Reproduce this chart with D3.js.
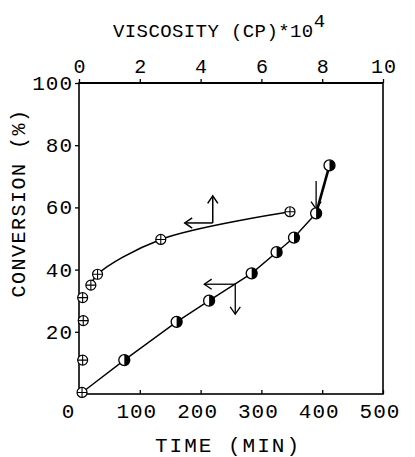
<!DOCTYPE html>
<html><head><meta charset="utf-8">
<script src="https://cdn.jsdelivr.net/npm/d3@7"></script>
<style>html,body{margin:0;padding:0;background:#fff;}svg{display:block;}</style>
</head><body>
<script>
// ---- data ----
const timeMin   = [5, 74.5, 160.6, 214, 284, 325, 353.6, 390, 412];
const timeConv  = [0.5, 10.9, 23.2, 30, 38.8, 45.6, 50.3, 58.1, 73.5];
const viscosity = [0.1, 0.12, 0.14, 0.12, 0.39, 0.61, 2.69, 6.94];
const viscConv  = [0.5, 10.9, 23.6, 31, 35, 38.5, 49.7, 58.6];
const timeTicks = [100, 200, 300, 400, 500];
const viscTicks = [0, 2, 4, 6, 8, 10];
const convTicks = [20, 40, 60, 80, 100];
const zeroLabel = "0";

const W = 415, H = 457;
const svg = d3.select("body").append("svg").attr("width", W).attr("height", H);
const font = "'Liberation Mono','DejaVu Sans Mono',monospace";

const x = d3.scaleLinear().domain([0, 500]).range([79, 383]);
const xv = d3.scaleLinear().domain([0, 10]).range([79, 383]);
const y = d3.scaleLinear().domain([0, 100]).range([394, 83]);

// frame
svg.append("rect").attr("x", x(0)).attr("y", y(100)).attr("width", x(500) - x(0)).attr("height", y(0) - y(100))
  .attr("fill", "none").attr("stroke", "#000").attr("stroke-width", 1.6);
svg.append("line").attr("x1", x(0)).attr("x2", x(500)).attr("y1", y(100)).attr("y2", y(100)).attr("stroke", "#000").attr("stroke-width", 2.2);

// axes
const gB = svg.append("g").attr("transform", `translate(0,${y(0)})`)
  .call(d3.axisTop(x).tickValues(timeTicks).tickSize(4).tickFormat(""));
const gT = svg.append("g").attr("transform", `translate(0,${y(100)})`)
  .call(d3.axisTop(xv).tickValues(viscTicks).tickSize(4).tickFormat(""));
const gL = svg.append("g").attr("transform", `translate(${x(0)},0)`)
  .call(d3.axisLeft(y).tickValues(convTicks).tickSize(4).tickFormat(""));
[gB, gT, gL].forEach(g => {
  g.select(".domain").remove();
  g.selectAll(".tick line").attr("stroke", "#000").attr("stroke-width", 1.3);
});

// tick labels
svg.append("g").selectAll("text").data(timeTicks).join("text")
  .attr("x", d => x(d) - 3).attr("y", 418).attr("text-anchor", "middle")
  .attr("font-family", font).attr("font-size", 21).attr("letter-spacing", 1).text(d => d);
svg.append("text").attr("x", 68).attr("y", 418).attr("text-anchor", "middle")
  .attr("font-family", font).attr("font-size", 21).text(zeroLabel);
svg.append("g").selectAll("text").data(viscTicks).join("text")
  .attr("x", d => xv(d) + 1).attr("y", 73).attr("text-anchor", "middle")
  .attr("font-family", font).attr("font-size", 20).attr("letter-spacing", 1).text(d => d);
svg.append("g").selectAll("text").data(convTicks).join("text")
  .attr("x", 73).attr("y", d => y(d) + 7).attr("text-anchor", "end")
  .attr("font-family", font).attr("font-size", 21).attr("letter-spacing", 1).text(d => d);

// titles
const tt = svg.append("text").attr("x", 113).attr("y", 37).attr("font-family", font).attr("font-size", 19).attr("letter-spacing", 0.4);
tt.append("tspan").text("VISCOSITY (CP)*10");
tt.append("tspan").attr("dy", -10).attr("font-size", 19).text("4");
svg.append("text").attr("x", 228).attr("y", 452).attr("text-anchor", "middle")
  .attr("font-family", font).attr("font-size", 21).attr("letter-spacing", 2).text("TIME (MIN)");
svg.append("text").attr("transform", "translate(25,203) rotate(-90)").attr("text-anchor", "middle")
  .attr("font-family", font).attr("font-size", 20).attr("letter-spacing", 1.5).text("CONVERSION (%)");

// time line
const tPts = timeMin.map((t, i) => [x(t), y(timeConv[i])]);
svg.append("path").attr("d", d3.line()(tPts.slice(0, 8))).attr("fill", "none").attr("stroke", "#000").attr("stroke-width", 1.4);
svg.append("path").attr("d", d3.line()(tPts.slice(7))).attr("fill", "none").attr("stroke", "#000").attr("stroke-width", 2.6);

// viscosity curve
const vPts = viscosity.map((v, i) => [xv(v), y(viscConv[i])]);
svg.append("path").attr("d", d3.line().curve(d3.curveCatmullRom.alpha(0.5))(vPts.slice(4)))
  .attr("fill", "none").attr("stroke", "#000").attr("stroke-width", 1.6);

// arrows
function arrow(x1, y1, x2, y2, sw) {
  svg.append("line").attr("x1", x1).attr("y1", y1).attr("x2", x2).attr("y2", y2).attr("stroke", "#000").attr("stroke-width", sw);
  const a = Math.atan2(y2 - y1, x2 - x1), L = 9, s = 0.6;
  const p = [[x2 - L * Math.cos(a - s), y2 - L * Math.sin(a - s)], [x2, y2], [x2 - L * Math.cos(a + s), y2 - L * Math.sin(a + s)]];
  svg.append("path").attr("d", d3.line()(p)).attr("fill", "none").attr("stroke", "#000").attr("stroke-width", sw);
}
// viscosity curve indicator (base on curve)
const vb = [xv(4.4), y(55)];
arrow(vb[0], vb[1], vb[0], vb[1] - 27, 1.5);
arrow(vb[0], vb[1], vb[0] - 28, vb[1], 1.5);
// time line indicator
const tb = [x(257), y(35.3)];
arrow(tb[0], tb[1], tb[0], tb[1] + 30, 1.3);
arrow(tb[0], tb[1], tb[0] - 31, tb[1], 1.3);
// gel point arrow
arrow(x(390), y(68.5), x(390), y(59.5), 1.3);

// markers: half-filled circles (time)
const r = 5.5;
const tm = svg.append("g").selectAll("g").data(tPts.slice(1)).join("g").attr("transform", d => `translate(${d[0]},${d[1]})`);
tm.append("circle").attr("r", r).attr("fill", "#fff").attr("stroke", "#000").attr("stroke-width", 1.3);
tm.append("path").attr("d", `M0,${-r}A${r},${r} 0 0 1 0,${r}Z`).attr("fill", "#000");

// markers: crossed circles (viscosity)
const vm = svg.append("g").selectAll("g").data(vPts).join("g").attr("transform", d => `translate(${d[0]},${d[1]})`);
vm.append("circle").attr("r", 5).attr("fill", "#fff").attr("stroke", "#000").attr("stroke-width", 1.2);
vm.append("path").attr("d", "M-5,0H5M0,-5V5").attr("stroke", "#000").attr("stroke-width", 1.1);
</script>
</body></html>
